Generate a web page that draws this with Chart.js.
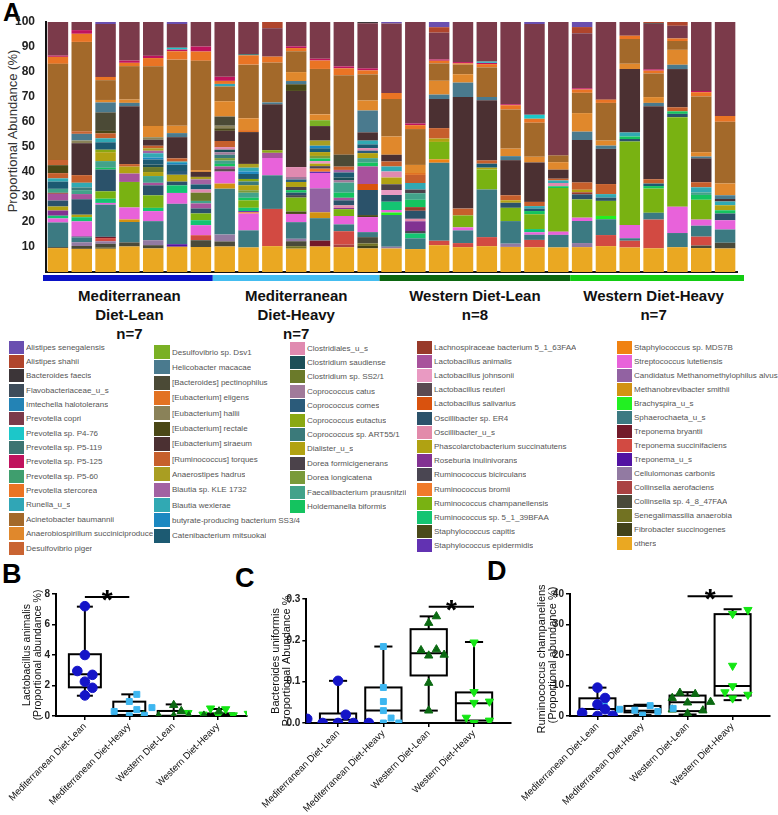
<!DOCTYPE html>
<html>
<head>
<meta charset="utf-8">
<script src="https://cdn.jsdelivr.net/npm/chart.js@4.4.1/dist/chart.umd.min.js"></script>
<style>
  body { margin: 0; background: #fff; font-family: "Liberation Sans", Arial, sans-serif; }
  #wrap { position: relative; width: 778px; height: 815px; overflow: hidden; background: #fff; }
  canvas { position: absolute; }
  .letter { position: absolute; font-weight: bold; color: #000; line-height: 1; }
  .grp { position: absolute; top: 286px; width: 170px; transform: translateX(-50%); text-align: center;
         font-weight: bold; font-size: 15px; line-height: 19px; color: #111; }
  .ytitle { position: absolute; left: 12px; top: 131px; transform: translate(-50%, -50%) rotate(-90deg);
            white-space: nowrap; font-size: 13px; color: #333; }
  .lg { position: absolute; display: flex; align-items: center; font-size: 8px; color: #555; white-space: nowrap; }
  .lg .tx { margin-left: 2px; overflow: hidden; }
</style>
</head>
<body>
<div id="wrap">
  <div class="letter" style="left:3px;top:0px;font-size:25px">A</div>
  <div class="letter" style="left:2px;top:561px;font-size:27px">B</div>
  <div class="letter" style="left:235px;top:565px;font-size:27px">C</div>
  <div class="letter" style="left:487px;top:558px;font-size:27px">D</div>
  <div class="ytitle">Proportional Abundance (%)</div>
  <canvas id="chartA" width="745" height="285" style="left:0;top:0"></canvas>
  <canvas id="chartB" width="255" height="230" style="left:0;top:585px"></canvas>
  <canvas id="chartC" width="262" height="230" style="left:255px;top:585px"></canvas>
  <canvas id="chartD" width="263" height="230" style="left:515px;top:585px"></canvas>
</div>
<script>
// ---- groups ----
const groupNames = ["Mediterranean Diet-Lean", "Mediterranean Diet-Heavy", "Western Diet-Lean", "Western Diet-Heavy"];
const groupSizes = [7, 7, 8, 7];

// ---- panel A: species (legend order = stacking order from top) ----
const speciesNames = [
  "Alistipes senegalensis", "Alistipes shahii", "Bacteroides faecis", "Flavobacteriaceae_u_s", "Imtechella halotolerans",
  "Prevotella copri", "Prevotella sp. P4-76", "Prevotella sp. P5-119", "Prevotella sp. P5-125", "Prevotella sp. P5-60",
  "Prevotella stercorea", "Runella_u_s", "Acinetobacter baumannii", "Anaerobiospirillum succiniciproducens", "Desulfovibrio piger",
  "Desulfovibrio sp. Dsv1", "Helicobacter macacae", "[Bacteroides] pectinophilus", "[Eubacterium] eligens", "[Eubacterium] hallii",
  "[Eubacterium] rectale", "[Eubacterium] siraeum", "[Ruminococcus] torques", "Anaerostipes hadrus", "Blautia sp. KLE 1732",
  "Blautia wexlerae", "butyrate-producing bacterium SS3/4", "Catenibacterium mitsuokai",
  "Clostridiales_u_s", "Clostridium saudiense", "Clostridium sp. SS2/1", "Coprococcus catus", "Coprococcus comes",
  "Coprococcus eutactus", "Coprococcus sp. ART55/1", "Dialister_u_s", "Dorea formicigenerans", "Dorea longicatena",
  "Faecalibacterium prausnitzii", "Holdemanella biformis",
  "Lachnospiraceae bacterium 5_1_63FAA", "Lactobacillus animalis", "Lactobacillus johnsonii", "Lactobacillus reuteri",
  "Lactobacillus salivarius", "Oscillibacter sp. ER4", "Oscillibacter_u_s", "Phascolarctobacterium succinatutens",
  "Roseburia inulinivorans", "Ruminococcus bicirculans", "Ruminococcus bromii", "Ruminococcus champanellensis",
  "Ruminococcus sp. 5_1_39BFAA", "Staphylococcus capitis", "Staphylococcus epidermidis",
  "Staphylococcus sp. MDS7B", "Streptococcus lutetiensis", "Candidatus Methanomethylophilus alvus", "Methanobrevibacter smithii",
  "Brachyspira_u_s", "Sphaerochaeta_u_s", "Treponema bryantii", "Treponema succinifaciens", "Treponema_u_s",
  "Cellulomonas carbonis", "Collinsella aerofaciens", "Collinsella sp. 4_8_47FAA", "Senegalimassilia anaerobia",
  "Fibrobacter succinogenes", "others"
];
const speciesColors = [
  "#6a4fb0", "#b0452c", "#3c3538", "#3e4c5a", "#2383b5",
  "#7b3a4a", "#1cc7c9", "#3d7472", "#c0135e", "#3f9e6e",
  "#ea7424", "#30a6b6", "#a3692a", "#e0882c", "#c96432",
  "#7ab024", "#4a7a8e", "#4b4a36", "#e27222", "#8a8259",
  "#4a4716", "#4b3032", "#c65f2c", "#a99e22", "#a262a2",
  "#31a9b3", "#1b88c1", "#1c5a72",
  "#e08ab0", "#1c4f58", "#6b7a2a", "#a07a9a", "#2b5b7a",
  "#8aa812", "#3b7a7a", "#b1a212", "#4b424a", "#7a9a3a",
  "#42a28a", "#14c35f",
  "#983a2a", "#a8529c", "#e99ac2", "#5b4a52",
  "#d9520e", "#2b526a", "#e28aaa", "#b0a212",
  "#823292", "#4a4652", "#f07a2a", "#79b212",
  "#14c472", "#4a4a1a", "#6232b2",
  "#f08212", "#e862da", "#9262a2", "#d29212",
  "#22f022", "#3c7a82", "#731a2a", "#d24a42", "#5212a2",
  "#927aa2", "#aa4242", "#4a4a3a", "#727222",
  "#42421a", "#eaa822"
];

// per-species abundance, one value per sample (7 | 7 | 8 | 7)
const aSenegalensis = [0,0,0.8,0,0,0.8,0, 0,0,0,0,0,0,0, 0.6,0,2,0,0,0,0.8,0, 2,0,0,0,0,0,0];
const aShahii       = [0,0,0,0,0,0,0, 0,0,2.4,0,0,0,0, 0,0,2.1,0,0,0,0,0, 2.4,0,0,0.5,1.5,0,0];
const bFaecis       = [0,0,0,0,0,0,0, 0,0,0,0,0,0,0.5, 0,0,0,0,0,0,0,0, 0,0,0,0.3,0,0,0];
const pCopri        = [13.5,3.3,21.4,15.1,13.5,9.4,9.8, 21.5,12.8,11,9.8,14.4,17.5,18, 27.8,41.6,10.3,15.8,15.8,32.8,36.8,53.2, 21.7,30.9,5.5,18,5,27.1,37.6];
const pP476         = [0,0,0,0,0,0.7,0, 0,0,0,0,0,0,0, 0,0,0,0,0.5,0,1.6,0, 0,0,0,0,0,0,0];
const pP5119        = [0,0,0,0,0,0,0, 0,0.5,0,0,0,0,0, 0,0,0,0,0,0,0,0, 0,0,0,0,0,0,0];
const pP5125        = [0.5,1.5,0,0.9,0.9,0.7,2, 1.6,0,0,0.7,0.7,0.8,0.8, 0,0.7,0.5,0.5,0.5,0.4,0,0, 0.5,0,0,0.5,0,0.5,0];
const pStercorea    = [2.8,3.3,1.3,1.3,3.3,3.3,3.7, 1.2,3.7,2.3,1.3,3.3,2.7,1.6, 2.4,1.6,1,0.5,1.3,1.7,1.6,0, 1.3,1.3,1.3,1.1,1,1.7,2.3];
const runella       = [0,0,0,0,0,0,0, 1,0,0,0,0,0,0, 0,0,0,0,0,0,0,0, 0,0,0,0,0,0,0];
const acinetobacter = [38.6,36.4,8,13.1,23.8,26.2,43.7, 5.8,21.4,15.4,8.4,17.8,31.4,10.4, 15,14.7,6.7,3.8,11.8,15.6,13.8,2.7, 8,15,9.9,9.4,3.5,21.9,24.7];
const anaerobio     = [0,0,1,1.3,4.5,2.9,0.7, 6,4.7,0,3.6,2.3,0,4, 7.3,3.3,5.3,3.3,0,3,2.3,3, 7.3,2,2.1,2.3,5.9,1.7,4.7];
const dPiger        = [2.1,1,0,0,0,0,0, 0,0,0,0,0,0,0, 0,0,0,0,0,0,0,0, 0,0,0,0,0,0,0];
const dDsv1         = [0,0,0,0,0,0,0, 0,0,0,0,2.3,0,0, 0,0,0,0,0,0,0,0, 0,0,0,0,0,0,0];
const helicobacter  = [0,2.7,4,1.3,0,1.6,0, 0,0,0.7,1.3,0,0,8.7, 0,0,1.7,5.7,1.3,1.6,0,0, 3.3,1.3,0,1.3,1.7,0.7,1.5];
const bPectino      = [0,0,7.5,0,0,0,0, 3.6,0,0,0,0,4.7,0, 0,0,0,0,0,0,0,0, 0,0,0,0,0,0,0];
const eEligens      = [0,0,0,0,0,0,0, 0,0.8,0,0,0,0,0, 0,0.8,0,0,0,0,0,0, 0,0,0,0,0,0,0];
const eHallii       = [0,1.1,0,0,1,0,0, 1,0,0,0,0,0,0, 0,0,0,0,0,0,0,0, 0,0,0,0,0,0,0];
const eRectale      = [3.2,0,1,0,0,0,0, 1,0,0,2.7,0,0,0, 0,0,0,0,0,0,0,0, 0,0,0,0,0,0,0];
const eSiraeum      = [0,13,0,22.7,2.4,8.4,2, 4,12.7,17.8,30.7,5.7,0,3.3, 2.7,0,11.2,44,24,14,16,3.6, 16.7,14,25.4,29,15.1,9.4,1];
const rTorques      = [2.1,3.1,2,1,1,1.3,0, 2.4,0,0,0,0,1.3,0, 2,3.3,4,2.7,1.3,2,1.7,0.7, 2.9,4,0,1.7,1.6,2,0];
const aHadrus       = [0,0,0,0,1,0,1, 0,1.5,0,0,2,0,0, 0,0,0,0,0,0,0,0, 0,0,0,0,0,0,0];
const blautiaKLE    = [0,0,0,0,1,0,2, 0,0,0,0,0,1,0, 0,0,0,0,0,0,0,0, 0,0,0,0,0,0,0];
const bWexlerae     = [1.3,1.9,1.6,0,1.7,0.5,0, 0,1.5,0,0,0,0,1.5, 2,2.7,0,0,0,0,1,1, 0,1.4,1.6,0,0,2,1.5];
const butyrateSS34  = [0,0,0,0,0.8,0.7,0, 0,1,0,0,1,0,0, 0,0,0,0,0,0,0,0, 0,0,0,0,0,0,0];
const catenibact    = [2.9,0,3,0,2,2.5,2, 0,2,0,0,1.5,2,1.5, 0,0,0,0,1.6,0,1,0, 0,0,0,1,0,0,0];
const clostridiales = [0,0,0,0,0,0,1.3, 1,0,0,4,0,0,1, 2.4,0,0,0,0,0,0,1.3, 0,0,0,0,0,0,0];
const cSaudiense    = [0,0,0,0,1,0,0, 1,0,0,0,0,1,0, 0,0,0,0,0,0,0,0, 0,0,0,0,0,0,0];
const cSS21         = [0,0,0,0,2,0,3.3, 0,0,0,0,0,0,0, 0,0,0,0,0,0,0,0, 0,0,0,0,0,0,0];
const cCatus        = [0,0,0,0,0,0,0, 1,0,0,1,0,1,0, 0,0,0,0,0,0,0,0, 0,0,0,0,0,0,0];
const cComes        = [0,0,0,0,0,1.5,0, 0,0,0,1,0,0,1, 0,0,0,0,0,0,0,0, 0,0,0,0,0,0,0];
const cEutactus     = [0,0,1,0,0,0,0, 0,1,1,0,0,0,0, 0,0,0,0,0,0,0,0, 0,0,0,0,0,0,0];
const cART55        = [0,1.1,0,0,0,0,0, 1.3,1.5,0,0,0,0,0, 0,0,0,0,0,0,0,0, 0,0,0,0,0,0,0];
const dialister     = [0,0,3.6,2.7,1.6,2.7,0, 0,2,0,2,1.5,0,2, 2.7,0,1.3,0,0.7,1,0,0, 1,0,0,0,0,0,2];
const dFormicigen   = [0,0,0,0,0,0,0, 0,0,0,1.3,0,0,0, 2.3,1.5,0,0,0,0,0,0, 0,0,0,0,0,0,0];
const dLongicatena  = [0,0,0,0,0,0,0, 1,1,0,0,1,0,0, 0,0,0,0,0,0,0,0, 0,0,0,0,0,0,0];
const faecalibact   = [1.6,1.6,2.7,0,2.7,0,1, 1.3,2,0,0,0,4,1.8, 0,2.7,0,0,0,0,0,0, 0,0,0,0,0,1,0];
const holdemanella  = [0,0,0.7,0,0,0,0, 1,1,0,1,1,2,1.5, 0,3,0,0,0,0,1.3,0.7, 0,0,1,1,1,1.9,1.3];
const lachno        = [0.4,0,0,0,0,0,0, 0,0,0,0,0,0,0, 0,1.5,0,0,0,0,0,0, 0.8,0,0,0,0,0,0];
const lAnimalis     = [2.7,2.1,0,3.3,1,0,2, 1,0,2,0,0,1,7, 0,0,0,0,0,0,0,0, 0,0,0,0,0,0,0];
const lJohnsonii    = [0,0,0,0,0,0,0, 0,0,0,0,1,0,0, 2,0,0,0,0,0,0,0, 0,0,0,0,0,0,0];
const lReuteri      = [0,0,0,0,0,0,0, 1,0,0,0,0,0,0, 0,0,0,0,0,0,0,0, 0,0,0,0,0,0,0];
const lSalivarius   = [0,0,0,0,0,0,0, 0,0,0,0,0,0,2.4, 0,0,0,0,0,0,0,0, 0,0,0,0,0,0,0];
const oscER4        = [2.4,6.3,8.8,0,4,1.5,2, 0,0,0,1,0,2,10, 2.7,3.3,0,0,0,2,0,0, 2,1.3,1,0,1.3,0,2.7];
const oscUs         = [0,0,0,0,0,0,0, 0,0,0,0,0,1,0, 0,1,0,0,0,0,0,0, 0,0,0,0,0,0,0];
const phascolarcto  = [1.6,1,0,0,0,0,0, 0,0,0,0,1,0,0, 0,0,0,0,0,0,0,0, 0,0,0,0,0,0,0];
const roseburia     = [2.1,0,0,0,0,0,0, 0,0,0,0,0,0.5,0, 0,4,0,0,0,0,0,0, 0,0,0,0,0,0,0];
const rBicirculans  = [0,0,0,0,0,0,0, 0,0,0,1,1,0,0, 0,1,0,0,0,0,0,0, 0,0,0,0,0,0,0];
const rBromii       = [0,0,0,0,0,0,0, 0,0,0,0,1.2,0,0, 0,0,0,0,0,0,0,0, 0,0,0,0,0,0,0];
const rChampanell   = [0,0,3,10,5,0,2.7, 0,3,0,5.6,0,2.7,0, 0,0,6.7,4.7,8,5.3,6,17.4, 7.2,6,33.4,9.6,35.4,7.8,0];
const rSp539        = [1.1,1.7,1.7,0,1.3,3,2, 0,1.3,0,0,0,0,0, 3.3,2,0,0,0,0,1.3,0, 0,0,0,0,0,0,0];
const sCapitis      = [0,0,0,0,0,0,0, 0,0,0,1,0,0,0.8, 0,0,0,0,0,0,0,0, 0,0,0,0,0,0,0];
const sEpidermidis  = [0,0,0,0,0,0,0, 0,0.5,0,0,0.5,0,0, 0,0,0,0,0,0,0,0, 0,0,0,0,0,0,0];
const sMDS7B        = [0,0,0,0,0,0,0, 0,0.5,0,0,0,0,0, 0,0,1.3,0,0,0,0,0, 0,0,0,0,0,0,0];
const streptococcus = [1.6,6,0.7,4.7,4,4.3,4, 4.7,6.7,6.7,3.3,6,3.3,6, 1,0,0,1.2,0,0,1,1.3, 1.3,0,5.3,0,10.4,2.4,3.7];
const candidatus    = [0,0.5,0,0,0,0,0, 0,0,0,0,9.4,0,0, 0,0,0,0,0,0,0,0, 0,0,0,0,0,0,0];
const methanobrev   = [0,0,0,1,0,0,0, 2,0,0,0,2.3,0,0, 0,0,0,0,0,0,0,0, 0,0,0,0,0,0,0];
const brachyspira   = [0,0,0,0,0,0,0, 0,0,0,0,0,0,0, 1,0,0,0,0,0,0,0, 0,1.3,0,0,0,0,0];
const sphaerochaeta = [9.9,2,13,8,7.6,16,0, 18,6.8,13,6.7,8.8,2.7,2, 12.7,4.4,30,5,19,9,2.1,5, 8.7,6.3,1,2.7,5.6,4.3,5.3];
const tBryantii     = [0,0,0.5,0,0,0,0, 0,0,0,0,2.3,0,0, 0,0,0,0,0,0,0,0, 0,0,0,0,0,0,0];
const tSuccinifac   = [0,0,1.3,0,0,0,2, 0,0,14.4,0,0,5.3,0, 0,0,1.7,1.6,3.6,0,3,0, 0,4.4,2.7,11.4,0,3.5,0];
const treponemaUs   = [0,0,0,0,0,1,0, 0,0,0,0,0,0,0, 0,0,0,0,0,0,0,0, 0,0,0,0,0,0,0];
const cellulomonas  = [0,1.5,1,0,2,0,0, 2.7,0,0,1,0,0,0, 0.7,0,0,0,0,1.3,0,0, 1.6,0,0,0,0,0,0];
const cAerofaciens  = [0,0,0,0,0,0,0, 0,0,0,0,0,1,0, 0,0,0,0,0,0,0,0, 0,0,0,0,0,0,0];
const collinsellaSp = [0.4,1.2,1.5,1.6,1.3,0,2.7, 2,0,0,2,0,0,2.5, 0,0,0,0,0,0,0,0, 0,0,0,0,0,1,2.3];
const senegalimass  = [0,0,0,0,0,0,0, 0,0,0,1,0,0,1, 0,0,0,0,0,0,0,0, 0,0,0,0,0,0,0];
const fibrobacter   = [0,0,0.5,0,0,0,0, 0,0,0,0,0,0,1, 0,0,0,0,0,0,0,0, 0,0,0,0,0,0,0];
const others        = [9.6,9.4,9.4,10,9.4,10,10, 10,9.8,10,9.4,10,9.8,9.4, 9.4,9.4,10.3,9.8,10.3,10,10,9.8, 9.8,10.3,9.8,9.4,9.8,9.4,9.4];

// aligned with speciesNames; null = not detected in any sample
const speciesValues = [
  aSenegalensis, aShahii, bFaecis, null, null,
  pCopri, pP476, pP5119, pP5125, null,
  pStercorea, runella, acinetobacter, anaerobio, dPiger,
  dDsv1, helicobacter, bPectino, eEligens, eHallii,
  eRectale, eSiraeum, rTorques, aHadrus, blautiaKLE,
  bWexlerae, butyrateSS34, catenibact,
  clostridiales, cSaudiense, cSS21, cCatus, cComes,
  cEutactus, cART55, dialister, dFormicigen, dLongicatena,
  faecalibact, holdemanella,
  lachno, lAnimalis, lJohnsonii, lReuteri,
  lSalivarius, oscER4, oscUs, phascolarcto,
  roseburia, rBicirculans, rBromii, rChampanell,
  rSp539, sCapitis, sEpidermidis,
  sMDS7B, streptococcus, candidatus, methanobrev,
  brachyspira, sphaerochaeta, tBryantii, tSuccinifac, treponemaUs,
  cellulomonas, cAerofaciens, collinsellaSp, senegalimass,
  fibrobacter, others
];

// ---- panels B-D: individual values and box summaries [min, q1, median, q3, max] ----
const animalisMedLean   = [7.2, 4.0, 2.95, 2.7, 2.25, 1.85, 1.35];
const animalisMedHeavy  = [1.42, 0.95, 0.55, 0.42, 0.3, 0.05, 0.02];
const animalisWestLean  = [0.72, 0.32, 0.3, 0.05, 0.02, 0, 0, 0];
const animalisWestHeavy = [0.5, 0.45, 0.2, 0.15, 0.1, 0.05, 0.05];
const animalisBoxes = [[1.33, 1.88, 2.73, 4.05, 7.17], [0, 0.07, 0.33, 0.94, 1.42], [0, 0, 0.02, 0.33, 0.76], [0, 0.02, 0.1, 0.17, 0.46]];

const uniformisMedLean   = [0.102, 0.02, 0.01, 0, 0, 0, 0];
const uniformisMedHeavy  = [0.185, 0.086, 0.052, 0.03, 0.012, 0, 0];
const uniformisWestLean  = [0.258, 0.242, 0.178, 0.176, 0.165, 0.163, 0.097, 0.03];
const uniformisWestHeavy = [0.195, 0.075, 0.052, 0.049, 0.013, 0.006, 0];
const uniformisBoxes = [[0, 0, 0.008, 0.023, 0.102], [0, 0, 0.03, 0.086, 0.185], [0.03, 0.115, 0.169, 0.227, 0.258], [0, 0.006, 0.048, 0.074, 0.196]];

const champMedLean   = [9.3, 5.9, 3.8, 2.2, 1.0, 0.1, 0];
const champMedHeavy  = [3.7, 3.4, 2.5, 2.2, 1.9, 1.5, 0.3];
const champWestLean  = [7.6, 7.2, 5.9, 4.6, 4.4, 2.1, 1.8, 0.8];
const champWestHeavy = [34.8, 33.5, 16.5, 9.8, 7.8, 7.0, 5.8];
const champBoxes = [[0, 0, 2.3, 5.8, 9.3], [0.3, 1.2, 1.7, 3.3, 3.7], [0.5, 1.6, 4.5, 6.7, 7.8], [5.2, 6.7, 9.8, 33.4, 35]];

Chart.defaults.font.family = '"Liberation Sans", Arial, sans-serif';
Chart.defaults.animation = false;

const wrap = document.getElementById("wrap");

// ---------- panel A ----------
const sampleLabels = groupNames.flatMap((g, i) => Array.from({ length: groupSizes[i] }, (_, k) => g + " " + (k + 1)));
const totals = sampleLabels.map((_, b) => speciesValues.reduce((s, arr) => s + (arr ? arr[b] : 0), 0));

const datasetsA = speciesNames.map((name, i) => ({
  label: name,
  data: sampleLabels.map((_, b) => (speciesValues[i] ? speciesValues[i][b] / totals[b] * 100 : 0)),
  backgroundColor: speciesColors[i],
  borderWidth: 0,
  barPercentage: 0.86,
  categoryPercentage: 1,
})).reverse();

const groupBarColors = ["#0a12c6", "#44bdf0", "#0b6610", "#12cc12"];

function groupEdges(chart) {
  const x = chart.scales.x;
  const w = x.width / sampleLabels.length;
  let start = 0;
  return groupSizes.map((n) => {
    const l = x.getPixelForValue(start) - w / 2;
    const r = x.getPixelForValue(start + n - 1) + w / 2;
    start += n;
    return [l, r];
  });
}

const groupBarPlugin = {
  id: "groupBar",
  afterDraw(chart) {
    const ctx = chart.ctx;
    const edges = groupEdges(chart);
    edges.forEach(([l, r], i) => {
      if (i === 0) l -= 3;
      if (i === edges.length - 1) r += 7;
      ctx.fillStyle = groupBarColors[i];
      ctx.fillRect(l, chart.chartArea.bottom + 3, r - l, 6);
    });
  },
};

const chartA = new Chart(document.getElementById("chartA"), {
  type: "bar",
  data: { labels: sampleLabels, datasets: datasetsA },
  options: {
    responsive: false,
    animation: false,
    layout: { padding: { top: 22, right: 8, bottom: 11, left: 4 } },
    plugins: { legend: { display: false }, tooltip: { enabled: false } },
    scales: {
      x: {
        stacked: true,
        ticks: { display: false },
        grid: { display: false },
        border: { color: "#111", width: 2 },
        afterFit: (s) => { s.height = 2; },
      },
      y: {
        stacked: true,
        min: 0,
        max: 100,
        afterFit: (s) => { s.width = 42; },
        ticks: {
          stepSize: 10,
          callback: (v) => (v === 0 ? "" : v),
          font: { size: 12, weight: "bold" },
          color: "#222",
          padding: 3,
        },
        grid: { display: false },
        border: { color: "#111", width: 2 },
      },
    },
  },
  plugins: [groupBarPlugin],
});

// group captions under panel A
groupEdges(chartA).forEach(([l, r], i) => {
  const d = document.createElement("div");
  d.className = "grp";
  d.style.left = (l + r) / 2 + "px";
  const words = groupNames[i].split(" ");
  d.innerHTML = words[0] + ' <span style="white-space:nowrap">' + words.slice(1).join(" ") + "</span><br>n=" + groupSizes[i];
  wrap.appendChild(d);
});

// legend columns
const legendCounts = [15, 13, 12, 15, 15];
const legendLayout = [
  { x: 9, y: 347, dy: 14.36, w: 127, sw: 15, sh: 13 },
  { x: 154, y: 352, dy: 15.3, w: 130, sw: 16, sh: 14 },
  { x: 290, y: 348, dy: 14.4, w: 125, sw: 15, sh: 13 },
  { x: 417, y: 347, dy: 14.2, w: 195, sw: 15, sh: 13 },
  { x: 617, y: 347, dy: 14.0, w: 160, sw: 15, sh: 13 },
];
let k = 0;
legendCounts.forEach((n, c) => {
  const L = legendLayout[c];
  for (let r = 0; r < n; r++, k++) {
    const row = document.createElement("div");
    row.className = "lg";
    row.style.left = L.x + "px";
    row.style.top = L.y + r * L.dy - L.sh / 2 + "px";
    row.innerHTML =
      '<span style="display:inline-block;width:' + L.sw + "px;height:" + L.sh + "px;background:" + speciesColors[k] + '"></span>' +
      '<span class="tx" style="max-width:' + L.w + 'px">' + speciesNames[k] + "</span>";
    wrap.appendChild(row);
  }
});

// ---------- panels B-D ----------
const groupColors = ["#1414c8", "#3db6f0", "#0b6a12", "#14e614"];
const groupMarkers = ["circle", "rect", "triangle", "triangle"];
const groupRotation = [0, 0, 0, 180];

// scatter-dot layout: place each point at the centre, or step sideways until it no longer overlaps
function spread(vals, center, range) {
  const pxX = 45, pxY = 125 / range, d = 9;
  const placed = [];
  vals.slice().sort((a, b) => a - b).forEach((v) => {
    for (let j = 0; j < 20; j++) {
      const off = (j % 2 ? 1 : -1) * Math.ceil(j / 2) * d * 0.85;
      const hit = placed.some((p) => Math.hypot(off - p.off, (v - p.v) * pxY) < d);
      if (!hit) { placed.push({ off, v }); break; }
    }
  });
  return placed.map((p) => ({ x: center + p.off / pxX, y: p.v }));
}

function boxPlugin(boxes, halfW) {
  return {
    id: "boxes",
    beforeDatasetsDraw(chart) {
      const { ctx, scales: { x, y } } = chart;
      const line = (x1, y1, x2, y2) => { ctx.beginPath(); ctx.moveTo(x1, y1); ctx.lineTo(x2, y2); ctx.stroke(); };
      ctx.save();
      ctx.strokeStyle = "#000";
      ctx.lineWidth = 2;
      boxes.forEach((b, g) => {
        const cx = x.getPixelForValue(g);
        const hw = x.getPixelForValue(g + halfW) - cx;
        const [lo, q1, med, q3, hi] = b.map((v) => y.getPixelForValue(v));
        ctx.strokeRect(cx - hw, q3, 2 * hw, q1 - q3);
        line(cx - hw, med, cx + hw, med);
        line(cx, q3, cx, hi);
        line(cx - hw / 2, hi, cx + hw / 2, hi);
        line(cx, q1, cx, lo);
        line(cx - hw / 2, lo, cx + hw / 2, lo);
      });
      ctx.restore();
    },
  };
}

function sigPlugin(sig) {
  return {
    id: "sig",
    afterDraw(chart) {
      const { ctx, scales: { x, y } } = chart;
      const [a, b, v] = sig;
      const x1 = x.getPixelForValue(a), x2 = x.getPixelForValue(b), yy = y.getPixelForValue(v);
      ctx.save();
      ctx.strokeStyle = "#000";
      ctx.lineWidth = 2;
      ctx.beginPath(); ctx.moveTo(x1, yy); ctx.lineTo(x2, yy); ctx.stroke();
      ctx.fillStyle = "#000";
      ctx.font = 'bold 28px "Liberation Sans", Arial, sans-serif';
      ctx.textAlign = "center";
      ctx.textBaseline = "alphabetic";
      ctx.fillText("*", (x1 + x2) / 2, yy + 12);
      ctx.restore();
    },
  };
}

function boxChart(id, o) {
  const span = o.max - o.min;
  const datasets = o.points.map((vals, g) => ({
    data: spread(vals, g, span),
    pointStyle: groupMarkers[g],
    rotation: groupRotation[g],
    pointRadius: g === 1 ? 4.2 : 4.8,
    backgroundColor: groupColors[g],
    borderColor: groupColors[g],
    borderWidth: 1,
  }));
  return new Chart(document.getElementById(id), {
    type: "scatter",
    data: { datasets },
    options: {
      responsive: false,
      animation: false,
      layout: { padding: o.pad },
      plugins: { legend: { display: false }, tooltip: { enabled: false } },
      scales: {
        x: {
          type: "linear",
          min: o.xmin,
          max: o.xmax,
          afterBuildTicks: (s) => { s.ticks = groupNames.map((_, i) => ({ value: i })); },
          afterFit: (s) => { s.height = o.xh; },
          ticks: {
            callback: (v) => groupNames[v],
            autoSkip: false,
            maxRotation: 45,
            minRotation: 45,
            font: { size: 9.5 },
            color: "#111",
            padding: 1,
          },
          grid: { drawOnChartArea: false, tickLength: 4, color: "#000", lineWidth: 1.5 },
          border: { color: "#000", width: 2 },
        },
        y: {
          min: o.min,
          max: o.max,
          afterFit: (s) => { s.width = o.yw; },
          ticks: {
            stepSize: o.step,
            callback: (v) => (o.decimals ? v.toFixed(o.decimals) : v),
            font: { size: 10, weight: "bold" },
            color: "#222",
            padding: 2,
          },
          grid: { drawOnChartArea: false, tickLength: 4, color: "#000", lineWidth: 1.5 },
          border: { color: "#000", width: 2 },
          title: { display: true, text: o.title, font: { size: o.titleSize, lineHeight: 1.0 }, color: "#111", padding: 0 },
        },
      },
    },
    plugins: [boxPlugin(o.boxes, o.halfW), sigPlugin(o.sig)],
  });
}

boxChart("chartB", {
  points: [animalisMedLean, animalisMedHeavy, animalisWestLean, animalisWestHeavy],
  boxes: animalisBoxes,
  min: 0, max: 8, step: 2, decimals: 0,
  title: ["Lactobacillus animalis", "(Proportional abundance %)"],
  titleSize: 10.5,
  xmin: -0.65, xmax: 3.65, xh: 99, yw: 34,
  pad: { top: 9, right: 8, left: 22, bottom: 0 },
  halfW: 0.36,
  sig: [0, 1, 7.8],
});

boxChart("chartC", {
  points: [uniformisMedLean, uniformisMedHeavy, uniformisWestLean, uniformisWestHeavy],
  boxes: uniformisBoxes,
  min: 0, max: 0.3, step: 0.1, decimals: 1,
  title: ["Bacteroides uniformis", "Proportional Abundance %"],
  titleSize: 11,
  xmin: -0.7, xmax: 3.82, xh: 92, yw: 36,
  pad: { top: 14, right: 4, left: 14, bottom: 0 },
  halfW: 0.4,
  sig: [2, 3, 0.281],
});

boxChart("chartD", {
  points: [champMedLean, champMedHeavy, champWestLean, champWestHeavy],
  boxes: champBoxes,
  min: 0, max: 40, step: 10, decimals: 0,
  title: ["Ruminococcus champaneliensis", "(Proportional abundance %)"],
  titleSize: 11,
  xmin: -0.61, xmax: 3.83, xh: 99, yw: 34,
  pad: { top: 9, right: 8, left: 18, bottom: 0 },
  halfW: 0.4,
  sig: [2, 3, 39.3],
});
</script>
</body>
</html>
